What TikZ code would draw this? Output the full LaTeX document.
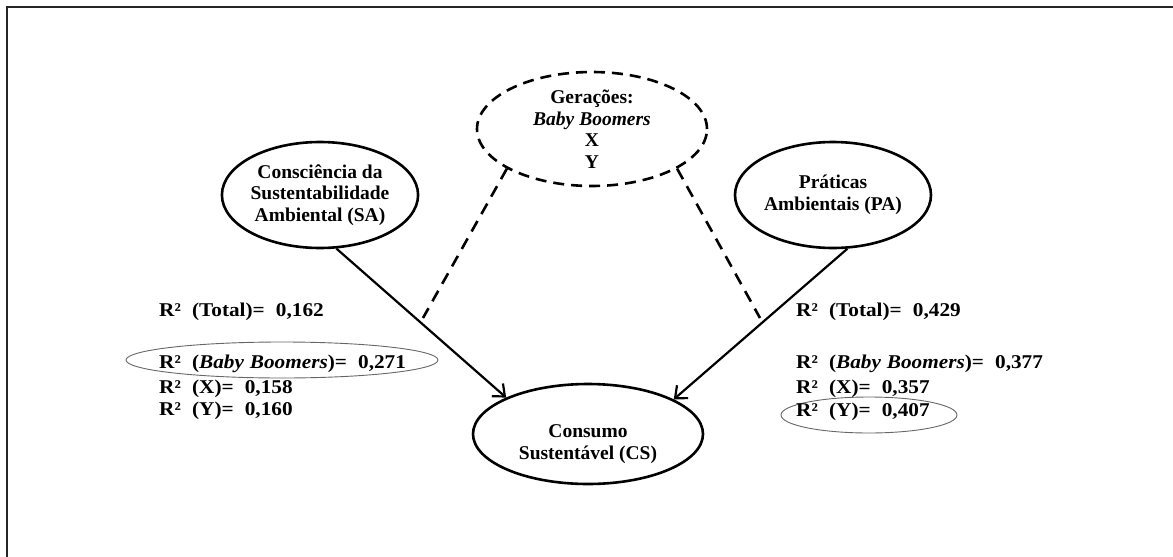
\documentclass[tikz,border=0pt]{standalone}
\usepackage{fontspec}
\setmainfont{Liberation Serif}
\newfontfamily\lblfont[FakeStretch=1.09,WordSpace=2.1]{Liberation Serif}
\usetikzlibrary{shapes.geometric,arrows.meta}
\begin{document}
\begin{tikzpicture}[x=1pt,y=-1pt,
  every node/.style={font=\fontsize{19.5}{21.5}\selectfont\bfseries},
  construct/.style={ellipse, draw=black, line width=2.6pt, inner sep=0pt, align=center},
  gen/.style={construct, dash pattern=on 11pt off 7pt},
  pathline/.style={line width=2.2pt, -{Straight Barb[length=10pt,width=17pt,line width=2.2pt]}},
  modline/.style={line width=2.6pt, dash pattern=on 12pt off 8pt},
  lbl/.style={anchor=base west, inner sep=0pt, font=\fontsize{19.5}{21.5}\lblfont\bfseries},
  hl/.style={ellipse, draw=black!60, line width=0.9pt, inner sep=0pt}
]
\useasboundingbox (0,0) rectangle (1173,557);
\draw[line width=1.8pt, black!85] (7,557) -- (7,7) -- (1173,7);

\node[gen, minimum width=230pt, minimum height=114pt] (ger) at (592,129)
  {Gerações:\\ \textit{Baby Boomers}\\ X\\ Y};
\node[construct, minimum width=196pt, minimum height=106pt] (sa) at (320,195)
  {Consciência da\\ Sustentabilidade\\ Ambiental (SA)};
\node[construct, minimum width=196pt, minimum height=106pt] (pa) at (833,195)
  {Práticas\\ Ambientais (PA)};
\node[construct, minimum width=230pt, minimum height=100pt] (cs) at (588,434) {};
\node[align=center, inner sep=0pt] (cst) at (588,444) {Consumo\\ Sustentável (CS)};

\draw[pathline] (sa.-73) -- (cs.156);
\draw[pathline] (pa.-75) -- (cs.22);

\coordinate (dl) at (423,318);
\coordinate (dr) at (760,318);
\draw[modline] (ger.-155) -- (dl);
\draw[modline] (ger.-25) -- (dr);

\node[hl, minimum width=312pt, minimum height=36pt] (h1) at (282,360) {};
\node[hl, minimum width=176pt, minimum height=36pt] (h2) at (869,415) {};

\node[lbl] (l1) at (159,316) {R² (Total)= 0,162};
\node[lbl] (l2) at (159,368) {R² (\textit{Baby\hspace{0.3em}Boomers})= 0,271};
\node[lbl] (l3) at (159,393) {R² (X)= 0,158};
\node[lbl] (l4) at (159,415) {R² (Y)= 0,160};

\node[lbl] (r1) at (796,316) {R² (Total)= 0,429};
\node[lbl] (r2) at (796,368) {R² (\textit{Baby\hspace{0.3em}Boomers})= 0,377};
\node[lbl] (r3) at (796,393) {R² (X)= 0,357};
\node[lbl] (r4) at (796,416) {R² (Y)= 0,407};
\end{tikzpicture}
\end{document}
